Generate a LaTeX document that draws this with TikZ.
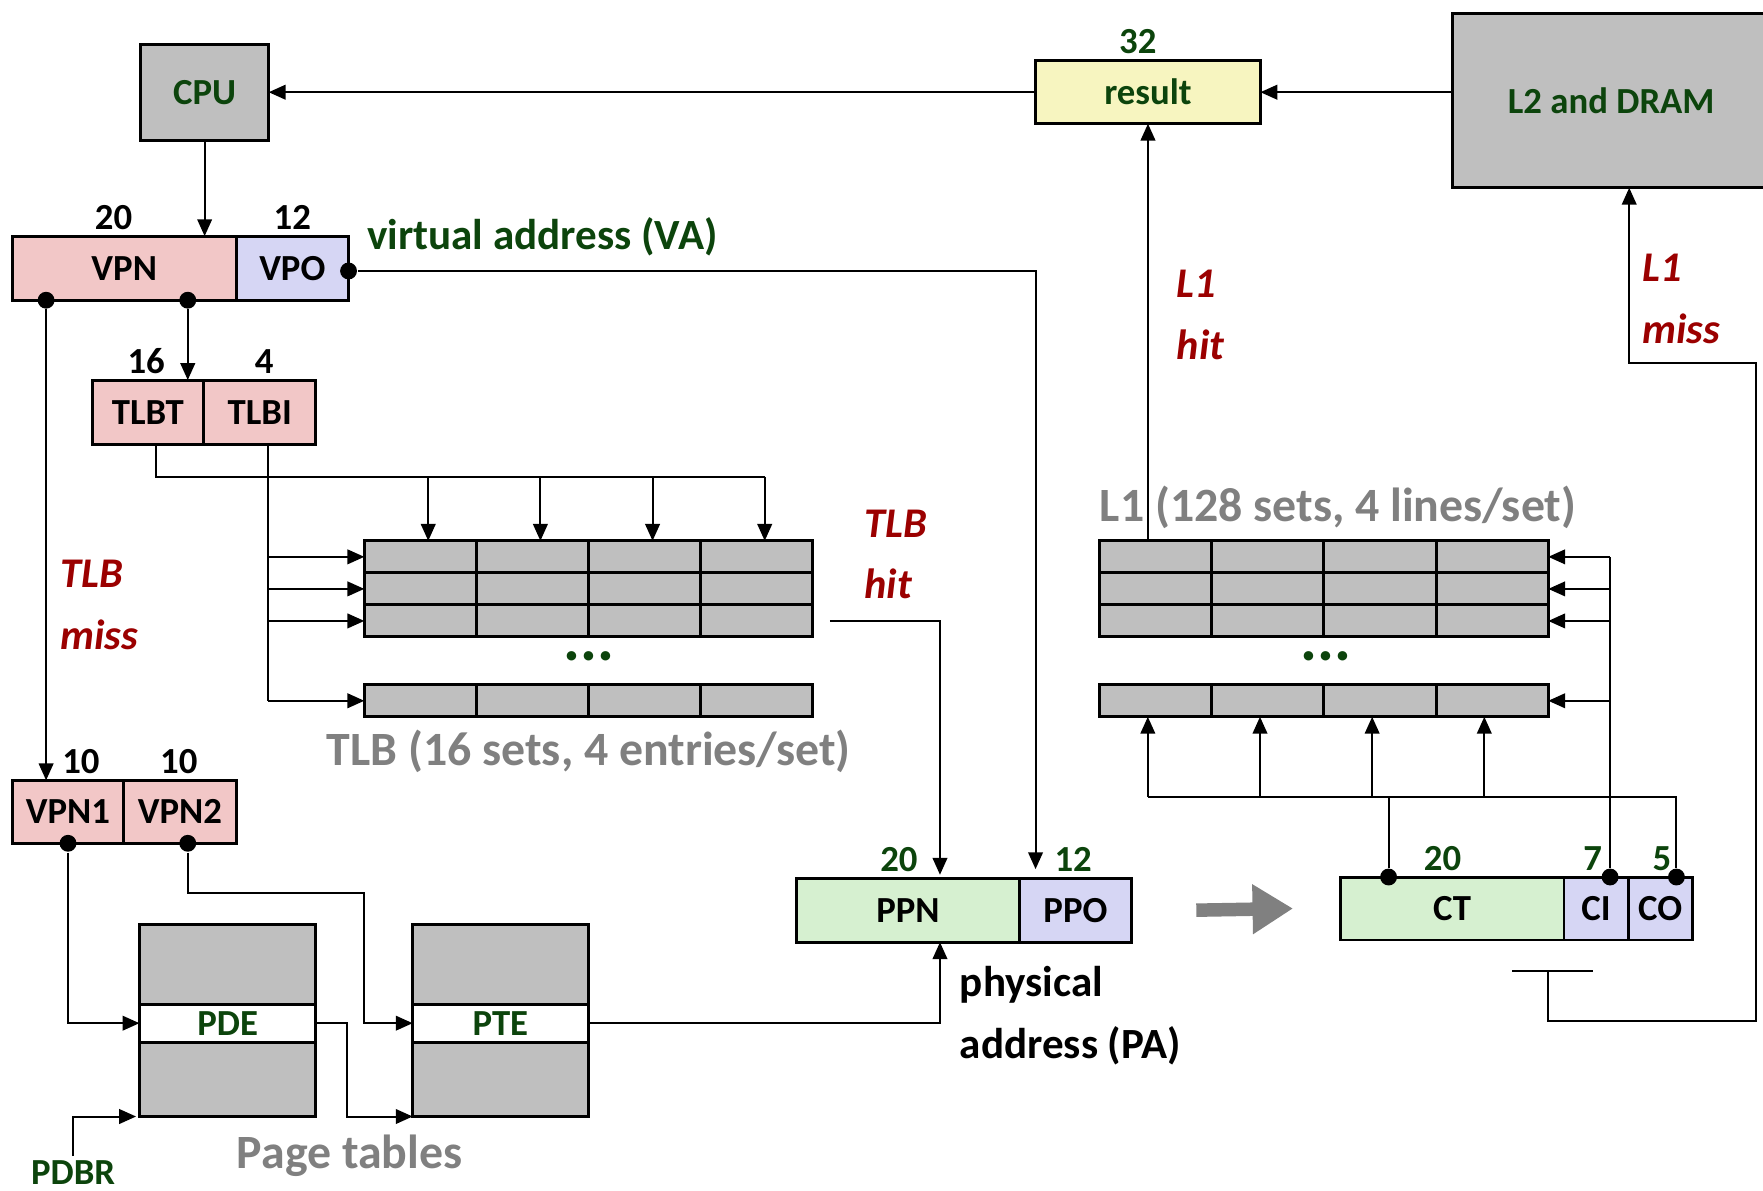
\documentclass[tikz,border=0pt]{standalone}
\usepackage{fontspec}
\setmainfont{Carlito}
\usepackage{xcolor}
\usepackage{tikz}
\usetikzlibrary{positioning,arrows.meta}

\definecolor{dgreen}{RGB}{12,68,12}
\definecolor{dred}{RGB}{155,0,0}
\definecolor{txtgray}{RGB}{128,128,128}
\definecolor{cellgray}{RGB}{191,191,191}
\definecolor{vpink}{RGB}{242,199,199}
\definecolor{lila}{RGB}{214,214,244}
\definecolor{pgreen}{RGB}{214,240,208}
\definecolor{pyellow}{RGB}{247,245,192}

\tikzset{
  box/.style={draw, line width=0.75pt, inner sep=0pt, outer sep=0pt, minimum height=0.57cm,
    font=\bfseries\fontsize{9.3}{11}\selectfont},
  numlab/.style={inner sep=1.5pt, font=\bfseries\fontsize{9.3}{11}\selectfont},
  cell/.style={draw, line width=0.75pt, fill=cellgray, inner sep=0pt, outer sep=0pt,
    minimum width=0.9975cm, minimum height=0.285cm},
  link/.style={line width=0.5pt},
  arr/.style={link, -{Triangle[length=0.15cm,width=0.13cm]}},
  dot/.style={circle, fill=black, inner sep=0pt, minimum size=0.15cm},
  note/.style={align=left, inner sep=0pt, font=\bfseries\fontsize{10.9}{15.6}\selectfont},
  hitmiss/.style={note, text=dred, font=\bfseries\itshape\fontsize{10.7}{15.6}\selectfont},
  title/.style={inner sep=0pt, text=txtgray, font=\bfseries\fontsize{12.1}{14}\selectfont},
  etc/.style={inner sep=0pt, text=dgreen, font=\bfseries\fontsize{16}{18}\selectfont}
}

\begin{document}
\begin{tikzpicture}
\useasboundingbox (0,0) rectangle (15.68,-10.59);

% CPU, Ergebnis, L2
\node[box, fill=cellgray, text=dgreen, minimum width=1.14cm, minimum height=0.85cm] (cpu) at (1.82,-0.825) {CPU};
\node[box, fill=pyellow, text=dgreen, minimum width=2.00cm, minimum height=0.56cm,
  label={[numlab, text=dgreen, xshift=-0.09cm]above:32}] (result) at (10.21,-0.82) {result};
\node[box, fill=cellgray, text=dgreen, minimum width=2.82cm, minimum height=1.55cm] (l2) at (14.33,-0.895) {L2 and DRAM};
\draw[arr] (l2.west |- result.east) -- (result.east);
\draw[arr] (result.west) -- (cpu.east |- result.west);

% virtuelle Adresse
\node[box, fill=vpink, minimum width=1.99cm, label={[numlab, xshift=-0.095cm]above:20}] (vpn) at (1.105,-2.385) {VPN};
\node[box, fill=lila, minimum width=1.00cm, right=0pt of vpn, label={[numlab]above:12}] (vpo) {VPO};
\node[note, text=dgreen, anchor=west] (va) at (3.26,-2.11) {virtual address (VA)};
\draw[arr] (cpu.south) -- (cpu.south |- vpn.north);
\node[dot] (vpnA) at ([xshift=0.30cm]vpn.south west) {};
\node[dot] (vpnB) at ([xshift=1.56cm]vpn.south west) {};
\node[dot] (vpoC) at ([yshift=-0.025cm]vpo.east) {};

% TLBT / TLBI
\node[box, fill=vpink, minimum width=0.99cm, label={[numlab, xshift=-0.015cm]above:16}] (tlbt) at (1.315,-3.665) {TLBT};
\node[box, fill=vpink, minimum width=1.00cm, right=0pt of tlbt, label={[numlab, xshift=0.04cm]above:4}] (tlbi) {TLBI};
\draw[arr] (vpnB) -- (vpnB |- tlbt.north);

% TLB
\foreach \r/\y in {1/4.9525, 2/5.2375, 3/5.5225, 4/6.2325}
  \foreach \c in {1,...,4}
    \node[cell] (tlb-\r-\c) at ({3.24+(\c-0.5)*0.9975},-\y) {};
\node[etc] (tlbdots) at (5.235,-5.84) {...};
\node[title] (tlbtitle) at (5.235,-6.68) {TLB (16 sets, 4 entries/set)};

\coordinate (tlbbus) at (0,-4.24);
\draw[link] ([xshift=0.075cm]tlbt.south) |- ([xshift=0.07cm]tlb-1-4.north |- tlbbus);
\foreach \c in {1,...,4}
  \draw[arr] ([xshift=0.07cm]tlb-1-\c.north |- tlbbus) -- ([xshift=0.07cm]tlb-1-\c.north);
\draw[link] ([xshift=0.07cm]tlbi.south) -- ([xshift=0.07cm]tlbi.south |- tlb-4-1.west);
\foreach \r in {1,...,4}
  \draw[arr] ([xshift=0.07cm]tlbi.south |- tlb-\r-1.west) -- (tlb-\r-1.west);

\node[hitmiss, anchor=west] (tlbhit) at (7.68,-4.93) {TLB\\hit};
\node[hitmiss, anchor=west] (tlbmiss) at (0.53,-5.38) {TLB\\miss};

% physikalische Adresse
\node[box, fill=pgreen, minimum width=1.99cm, label={[numlab, text=dgreen, xshift=-0.08cm]above:20}] (ppn) at (8.075,-8.095) {PPN};
\node[box, fill=lila, minimum width=0.99cm, right=0pt of ppn, label={[numlab, text=dgreen, xshift=-0.02cm]above:12}] (ppo) {PPO};
\node[note, anchor=north west] (pa) at (8.53,-8.59) {physical\\address (PA)};

\coordinate (tlbout) at ([xshift=0.15cm]tlb-3-4.east);
\draw[arr] (tlbout) -| ([xshift=0.285cm, yshift=0.03cm]ppn.north);
\draw[arr] (vpoC) -| ([xshift=-0.355cm, yshift=0.08cm]ppo.north);

% VPN1 / VPN2
\node[box, fill=vpink, minimum width=0.99cm, minimum height=0.56cm, label={[numlab, xshift=0.115cm]above:10}] (vpn1) at (0.605,-7.22) {VPN1};
\node[box, fill=vpink, minimum width=1.00cm, minimum height=0.56cm, right=0pt of vpn1, label={[numlab, xshift=-0.01cm]above:10}] (vpn2) {VPN2};
\draw[arr] (vpnA) -- (vpnA |- vpn1.north);
\node[dot] (vpn1dot) at (vpn1.south) {};
\node[dot] (vpn2dot) at ([xshift=0.07cm]vpn2.south) {};

% Seitentabellen
\node[box, fill=cellgray, minimum width=1.57cm, minimum height=0.71cm] (pdtop) at (2.025,-8.575) {};
\node[box, fill=white, text=dgreen, minimum width=1.57cm, minimum height=0.34cm, below=0pt of pdtop] (pde) {PDE};
\node[box, fill=cellgray, minimum width=1.57cm, minimum height=0.66cm, below=0pt of pde] (pdbot) {};
\node[box, fill=cellgray, minimum width=1.56cm, minimum height=0.71cm] (pttop) at (4.45,-8.575) {};
\node[box, fill=white, text=dgreen, minimum width=1.56cm, minimum height=0.34cm, below=0pt of pttop] (pte) {PTE};
\node[box, fill=cellgray, minimum width=1.56cm, minimum height=0.66cm, below=0pt of pte] (ptbot) {};
\node[title] (pttitle) at (3.11,-10.28) {Page tables};
\node[numlab, text=dgreen, inner sep=1pt] (pdbr) at (0.65,-10.43) {PDBR};

\draw[arr] (vpn1dot) |- (pde.west);
\coordinate (vpn2knick) at (3.24,-7.94);
\draw[arr] (vpn2dot) |- (vpn2knick) |- (pte.west);
\draw[arr] (pde.east) -- ++(0.28,0) |- (ptbot.south west);
\draw[arr] (pdbr.north) |- ([xshift=-0.03cm]pdbot.south west);
\draw[arr] (pte.east) -| ([xshift=0.285cm]ppn.south);

% L1
\foreach \r/\y in {1/4.9525, 2/5.2375, 3/5.5225, 4/6.2325}
  \foreach \c in {1,...,4}
    \node[cell] (l1-\r-\c) at ({9.78+(\c-0.5)*0.9975},-\y) {};
\node[etc] (l1dots) at (11.79,-5.84) {...};
\node[title] (l1title) at (11.90,-4.51) {L1 (128 sets, 4 lines/set)};

\draw[arr] (result.south |- l1-1-1.north) -- (result.south);
\node[hitmiss, anchor=west] (l1hit) at (10.46,-2.80) {L1\\hit};

% Cache-Adresse
\node[box, fill=pgreen, minimum width=1.99cm, minimum height=0.56cm, label={[numlab, text=dgreen, xshift=-0.085cm]above:20}] (ct) at (12.915,-8.08) {CT};
\node[box, fill=lila, minimum width=0.57cm, minimum height=0.56cm, right=0pt of ct, label={[numlab, text=dgreen, xshift=-0.03cm]above:7}] (ci) {CI};
\node[box, fill=lila, minimum width=0.57cm, minimum height=0.56cm, right=0pt of ci, label={[numlab, text=dgreen, xshift=0.015cm]above:5}] (co) {CO};
\draw[line width=0.12cm, txtgray, -{Triangle[length=0.36cm,width=0.42cm]}] ([xshift=0.58cm]ppo.east) -- ([xshift=-0.42cm]ct.west);

\node[dot] (ctdot) at ([xshift=0.43cm]ct.north west) {};
\node[dot] (cidot) at ([xshift=0.125cm]ci.north) {};
\node[dot] (codot) at ([xshift=0.145cm]co.north) {};

\coordinate (l1bus) at (0,-7.09);
\draw[link] (ctdot) -- (ctdot |- l1bus);
\draw[link] (codot) |- ([xshift=-0.07cm]l1-4-1.south |- l1bus);
\foreach \c in {1,...,4}
  \draw[arr] ([xshift=-0.07cm]l1-4-\c.south |- l1bus) -- ([xshift=-0.07cm]l1-4-\c.south);
\draw[link] (cidot) -- (cidot |- l1-1-4.east);
\foreach \r in {1,...,4}
  \draw[arr] (cidot |- l1-\r-4.east) -- (l1-\r-4.east);

% L1 miss
\coordinate (tagcmp) at (13.77,-8.64);
\coordinate (missecke) at (15.62,-9.08);
\coordinate (missknick) at (0,-3.23);
\draw[link] ([xshift=-0.32cm]tagcmp) -- ([xshift=0.395cm]tagcmp);
\draw[arr] (tagcmp) |- (missecke) |- ([xshift=0.16cm]l2.south |- missknick) -- ([xshift=0.16cm]l2.south);
\node[hitmiss, anchor=west] (l1miss) at (14.60,-2.66) {L1\\miss};
\end{tikzpicture}
\end{document}
